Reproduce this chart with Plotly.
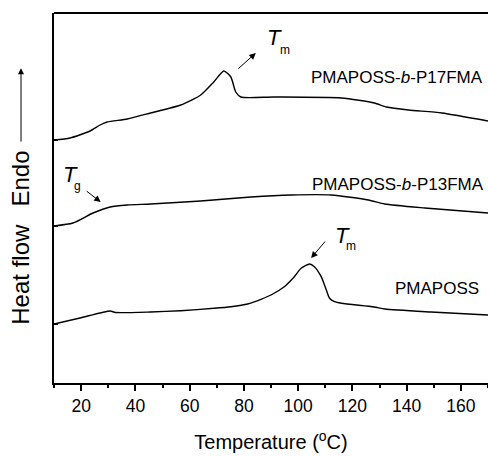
import plotly.graph_objects as go

# Temperature (°C) and heat flow (arbitrary units, endo up)
t_p17 = [10, 15.9, 23.3, 27.0, 29.6, 37.0, 45.6, 56.7, 64.1, 68.9, 72.6, 75.2, 77.0, 78.9, 91.1, 115.9, 128.1, 132.6, 140.7, 153.0, 170]
h_p17 = [243, 245, 252, 258, 261, 264, 270, 278, 288, 301, 312, 306, 291, 286, 286, 285, 280, 276, 273, 270, 262]

t_p13 = [10, 17.0, 24.4, 30.7, 37.0, 45.6, 64.1, 82.6, 97.4, 112.2, 125.9, 131.9, 146.7, 170]
h_p13 = [157, 160, 170, 176, 178, 179, 182, 186, 188, 188, 183, 179, 175, 170]

t_pm = [10, 19.6, 30.7, 32.6, 45.6, 56.7, 69.0, 75.2, 81.4, 86.3, 90.0, 94.9, 98.6, 101.1, 104.2, 106.0, 108.5, 110.4, 111.6, 113.4, 116.0, 128.0, 132.0, 149.0, 170]
h_pm = [59, 65, 72, 70.5, 71, 72.3, 74.7, 76.3, 79, 83.7, 88, 96.3, 106.3, 114.7, 119, 116.3, 106.3, 93, 84.7, 81.3, 79.7, 76, 74, 71, 68]

xticks = [20, 40, 60, 80, 100, 120, 140, 160]
ytick_marks = [59, 157, 243]

FONT = "Liberation Sans, Arial, Helvetica, sans-serif"

fig = go.Figure()
for t, h in [(t_p17, h_p17), (t_p13, h_p13), (t_pm, h_pm)]:
    fig.add_trace(go.Scatter(x=t, y=h, mode="lines",
                             line=dict(color="black", width=1.4, shape="spline", smoothing=0.6),
                             showlegend=False, hoverinfo="skip"))

ann = []
def txt(x, y, s, size, xref="x", yref="y", angle=0):
    ann.append(dict(x=x, y=y, xref=xref, yref=yref, text=s, showarrow=False,
                    font=dict(family=FONT, size=size, color="black"),
                    xanchor="center", yanchor="middle", textangle=angle))

def arrow(x0, y0, x1, y1):
    ann.append(dict(x=x1, y=y1, ax=x0, ay=y0, xref="x", yref="y", axref="x", ayref="y",
                    text="", showarrow=True, arrowhead=2, arrowsize=1.3, arrowwidth=1,
                    arrowcolor="black", standoff=0))

txt(136.3, 306, "PMAPOSS-<i>b</i>-P17FMA", 17)
txt(137.0, 199, "PMAPOSS-<i>b</i>-P13FMA", 17)
txt(151.1, 95, "PMAPOSS", 17)

txt(91.3, 346, "<i>T</i>", 22)
txt(95.0, 333, "m", 12)
arrow(77.4, 313, 84.4, 330)

txt(16.1, 209, "<i>T</i>", 22)
txt(18.8, 197, "g", 12)
arrow(21.5, 193, 27.2, 181)

txt(116.5, 148, "<i>T</i>", 22)
txt(119.6, 137, "m", 12)
arrow(110.4, 143, 104.8, 125)

# y-axis label pieces
txt(-0.078, 0.293, "Heat flow", 24, xref="paper", yref="paper", angle=-90)
txt(-0.078, 0.553, "Endo", 24, xref="paper", yref="paper", angle=-90)
ann.append(dict(x=-0.076, y=0.851, xref="paper", yref="paper", ax=0, ay=75,
                text="", showarrow=True, arrowhead=2, arrowsize=1.2, arrowwidth=1,
                arrowcolor="black", standoff=0))

fig.update_layout(
    width=488, height=456,
    margin=dict(l=54, r=0, t=13, b=73),
    paper_bgcolor="white", plot_bgcolor="white",
    font=dict(family=FONT, color="black"),
    annotations=ann,
    xaxis=dict(range=[10, 170], showline=True, linewidth=2, linecolor="black",
               ticks="outside", tickvals=xticks, ticklen=6, tickwidth=1.5, tickcolor="black",
               minor=dict(ticks="outside", ticklen=3, tickwidth=1.5, dtick=10, tick0=10, tickcolor="black"),
               showgrid=False, zeroline=False, tickfont=dict(size=17.5),
               title=dict(text="Temperature (<sup>o</sup>C)", font=dict(size=20), standoff=20)),
    yaxis=dict(range=[0, 370], showline=True, linewidth=2, linecolor="black",
               ticks="inside", tickvals=ytick_marks, ticklen=4, tickwidth=1.5, tickcolor="black",
               showticklabels=False, showgrid=False, zeroline=False),
    shapes=[dict(type="line", xref="paper", yref="paper", x0=0, x1=1, y0=1, y1=1,
                 line=dict(color="black", width=2))],
)

fig.write_html("out.html")
